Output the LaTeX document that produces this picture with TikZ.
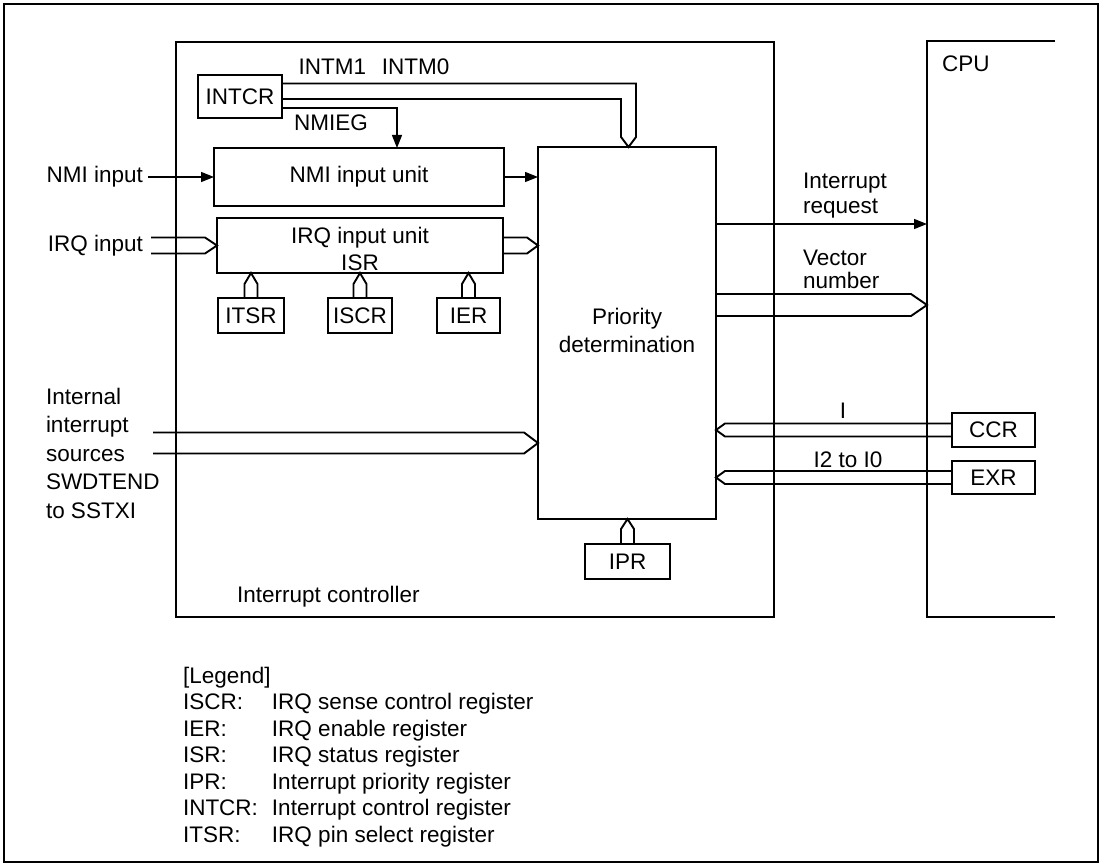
\documentclass[tikz,border=0pt]{standalone}
\usepackage{fontspec}
\setmainfont{Liberation Sans}
\usetikzlibrary{calc,arrows.meta}
% bus arrow: start, tip, half width (pt), head length (pt)
\newcommand\busline[4]{%
  \coordinate (bH) at ($(#2)!#4pt!(#1)$);
  \draw[bus] ($(#1)!#3pt!90:(bH)$) -- ($(bH)!#3pt!-90:(#1)$) -- (#2) -- ($(bH)!#3pt!90:(#1)$) -- ($(#1)!#3pt!-90:(bH)$);
}
\begin{document}
\begin{tikzpicture}[x=1pt,y=-1pt,
  every node/.style={font=\fontsize{22.5}{25}\selectfont, inner sep=0pt, outer sep=0pt},
  blk/.style={draw, line width=2.4pt},
  reg/.style={draw, line width=2.4pt, minimum height=35pt},
  sig/.style={line width=1.2pt},
  arr/.style={-{Triangle[length=13pt,width=10pt]}},
  bus/.style={line width=1.9pt, line join=miter},
  blkline/.style={line width=2.4pt}
]
\useasboundingbox (0,0) rectangle (1103,866);
\node[blk, minimum width=1094pt, minimum height=858pt] (frame) at (551,433) {};

% main blocks
\node[blk, minimum width=598pt, minimum height=575pt] (ctrl) at (475,329.5) {};
\node[minimum width=128pt, minimum height=576pt] (cpu) at (991,329) {};
\draw[blkline] (cpu.north east) -- (cpu.north west) -- (cpu.south west) -- (cpu.south east);
\node[anchor=west] (cpulbl) at (942,63.5) {CPU};
\node[anchor=west] (ctrllbl) at (237,597) {Interrupt controller};

\node[blk, minimum width=84pt, minimum height=43pt] (intcr) at (240,96.5) {INTCR};
\node[blk, minimum width=290pt, minimum height=58pt] (nmi) at (359,177) {NMI input unit};
\node[blk, minimum width=286pt, minimum height=55pt] (irq) at (360,245.5) {};
\node[align=center, font=\fontsize{22.5}{27}\selectfont] (irqlbl) at ($(irq.center)+(0,3)$) {IRQ input unit\\ISR};
\node[blk, minimum width=178pt, minimum height=372pt] (prio) at (627,333) {};
\node[align=center, font=\fontsize{22.5}{28}\selectfont] (priolbl) at (627,330) {Priority\\determination};

\node[reg, minimum width=66pt] (itsr) at (251,315.5) {ITSR};
\node[reg, minimum width=64pt] (iscr) at (360,315.5) {ISCR};
\node[reg, minimum width=63pt] (ier) at (468.5,315.5) {IER};
\node[reg, minimum width=85pt] (ipr) at (627.5,561.5) {IPR};
\node[reg, minimum width=83pt, minimum height=34pt] (ccr) at (993.5,430) {CCR};
\node[reg, minimum width=83pt, minimum height=33pt] (exr) at (993.5,477.5) {EXR};

% INTCR outputs
\node (intml) at (374,66.5) {INTM1\hspace{0.7em}INTM0};
\coordinate (imT) at ($(prio.north)+(1.5,0)$);
\draw[bus] ($(intcr.east)+(0,-13)$) -| ($(imT)+(7.5,-10)$) -- (imT) -- ($(imT)+(-7.5,-10)$) |- ($(intcr.east)+(0,2.5)$);
\draw[sig,arr] ($(intcr.east)+(0,11.5)$) -| ($(nmi.north west)+(183,0)$);
\node (nmiegl) at (331,122.5) {NMIEG};

% NMI
\node[anchor=east] (nmiinl) at (143,177) {NMI input};
\coordinate (nmiin) at (148,177);
\draw[sig,arr] (nmiin) -- (nmi.west);
\draw[sig,arr] (nmi.east) -- (nmi.east -| prio.west);

% IRQ
\node[anchor=east] (irqinl) at (143,245.5) {IRQ input};
\coordinate (irqin) at (151,245.5);
\busline{irqin}{irq.west}{8}{12}
\coordinate (irqT) at (irq.east -| prio.west);
\busline{irq.east}{irqT}{8}{11}

% register buses
\coordinate (itsrT) at (itsr.north |- irq.south);
\busline{itsr.north}{itsrT}{6.5}{11}
\coordinate (iscrT) at (iscr.north |- irq.south);
\busline{iscr.north}{iscrT}{6.5}{11}
\coordinate (ierT) at (ier.north |- irq.south);
\busline{ier.north}{ierT}{6.5}{11}
\coordinate (iprT) at (ipr.north |- prio.south);
\busline{ipr.north}{iprT}{6.5}{10}

% internal sources
\node[anchor=west, align=left, font=\fontsize{22.5}{28.5}\selectfont] (intl) at (46,453) {Internal\\interrupt\\sources\\SWDTEND\\to SSTXI};
\coordinate (intin) at (153,443);
\coordinate (intT) at (intin -| prio.west);
\busline{intin}{intT}{10.5}{14}

% to CPU
\coordinate (reqS) at ($(prio.north east)+(0,77)$);
\coordinate (reqT) at (reqS -| cpu.west);
\draw[sig,arr] (reqS) -- (reqT);
\node[anchor=west, align=left] (reql) at (803,196) {Interrupt\\request};

\coordinate (vecS) at ($(prio.north east)+(0,158)$);
\coordinate (vecT) at (vecS -| cpu.west);
\busline{vecS}{vecT}{11}{16}
\node[anchor=west, align=left, font=\fontsize{22.5}{23}\selectfont] (vecl) at (803,269) {Vector\\number};

% from CPU
\coordinate (ccrT) at (ccr.west -| prio.east);
\busline{ccr.west}{ccrT}{6.5}{9}
\node (ccrl) at (843,411) {I};
\coordinate (exrT) at (exr.west -| prio.east);
\busline{exr.west}{exrT}{6.5}{9}
\node (exrl) at (848,460) {I2 to I0};

% legend
\node[anchor=north west, align=left, font=\fontsize{22.5}{26.5}\selectfont] (legend) at (183,667) {%
[Legend]\\
\makebox[89pt][l]{ISCR:}IRQ sense control register\\
\makebox[89pt][l]{IER:}IRQ enable register\\
\makebox[89pt][l]{ISR:}IRQ status register\\
\makebox[89pt][l]{IPR:}Interrupt priority register\\
\makebox[89pt][l]{INTCR:}Interrupt control register\\
\makebox[89pt][l]{ITSR:}IRQ pin select register};
\end{tikzpicture}
\end{document}
